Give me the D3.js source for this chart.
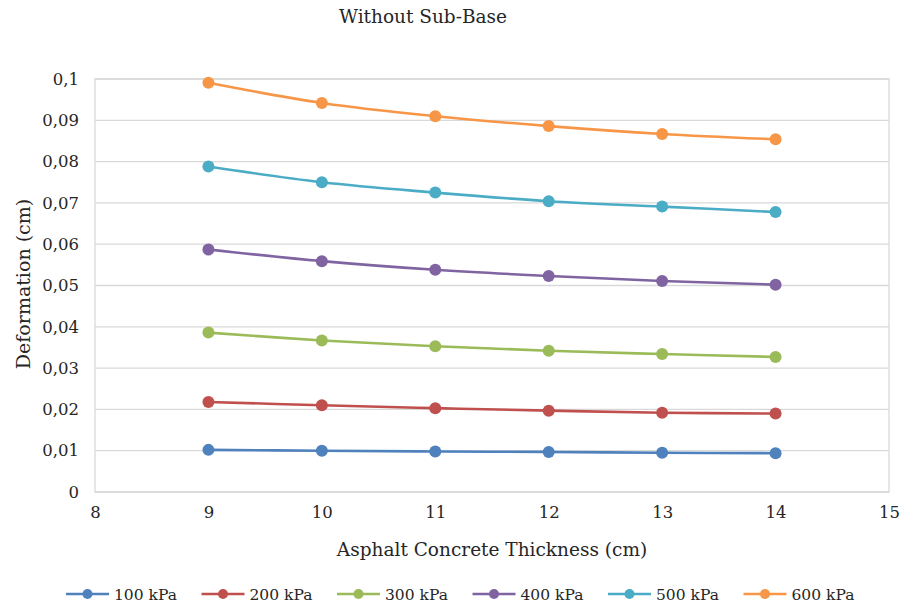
<!DOCTYPE html>
<html><head><meta charset="utf-8">
<script src="https://cdn.jsdelivr.net/npm/d3@7"></script>
<style>body{margin:0;background:#fff}svg{display:block}text{font-family:"DejaVu Serif","Liberation Serif",serif;fill:#262626}</style>
</head><body><svg id="c" width="901" height="608"></svg>
<script>
const thickness = [9, 10, 11, 12, 13, 14];
const seriesNames = ["100 kPa", "200 kPa", "300 kPa", "400 kPa", "500 kPa", "600 kPa"];
const s100 = [0.0102, 0.0100, 0.0098, 0.0097, 0.0095, 0.0094];
const s200 = [0.0218, 0.0210, 0.0203, 0.0197, 0.0192, 0.0190];
const s300 = [0.0386, 0.0367, 0.0353, 0.0342, 0.0334, 0.0327];
const s400 = [0.0587, 0.0559, 0.0538, 0.0523, 0.0511, 0.0502];
const s500 = [0.0788, 0.0750, 0.0725, 0.0704, 0.0691, 0.0678];
const s600 = [0.0991, 0.0942, 0.0910, 0.0886, 0.0867, 0.0854];
const colors = ["#4F81BD", "#C0504D", "#9BBB59", "#8064A2", "#4BACC6", "#F79646"];
const xTicks = [8, 9, 10, 11, 12, 13, 14, 15];
const yTicks = [0, 0.01, 0.02, 0.03, 0.04, 0.05, 0.06, 0.07, 0.08, 0.09, 0.1];
const allSeries = [s100, s200, s300, s400, s500, s600];

const svg = d3.select("#c");
const L = 95, R = 889, T = 79, B = 492;
const x = d3.scaleLinear().domain([8, 15]).range([L, R]);
const y = d3.scaleLinear().domain([0, 0.1]).range([B, T]);
const fmt = v => d3.format("~g")(+v.toFixed(2)).replace(".", ",");

svg.append("g").selectAll("line").data(yTicks).join("line")
  .attr("x1", L).attr("x2", R).attr("y1", d => y(d)).attr("y2", d => y(d))
  .attr("stroke", "#d9d9d9").attr("stroke-width", 1.3);
svg.append("rect").attr("x", L).attr("y", T).attr("width", R - L).attr("height", B - T)
  .attr("fill", "none").attr("stroke", "#d9d9d9").attr("stroke-width", 1.3);

const yAxis = svg.append("g").attr("transform", `translate(${L},0)`)
  .call(d3.axisLeft(y).tickValues(yTicks).tickFormat(fmt).tickSize(0).tickPadding(16));
yAxis.select(".domain").remove();
yAxis.selectAll("text").attr("font-size", 16.5).attr("font-family", "DejaVu Serif").attr("fill", "#262626");

const xAxis = svg.append("g").attr("transform", `translate(0,${B})`)
  .call(d3.axisBottom(x).tickValues(xTicks).tickFormat(d3.format("d")).tickSize(0).tickPadding(14));
xAxis.select(".domain").remove();
xAxis.selectAll("text").attr("font-size", 16.5).attr("font-family", "DejaVu Serif").attr("fill", "#262626");

const line = d3.line().x((d, i) => x(thickness[i])).y(d => y(d)).curve(d3.curveCatmullRom.alpha(0.5));
allSeries.forEach((s, k) => {
  svg.append("path").attr("d", line(s)).attr("fill", "none")
    .attr("stroke", colors[k]).attr("stroke-width", 2.6);
  svg.append("g").selectAll("circle").data(s).join("circle")
    .attr("cx", (d, i) => x(thickness[i])).attr("cy", d => y(d)).attr("r", 6)
    .attr("fill", colors[k]);
});

svg.append("text").attr("x", 423).attr("y", 23).attr("text-anchor", "middle")
  .attr("font-size", 18.5).text("Without Sub-Base");
svg.append("text").attr("x", 492).attr("y", 556).attr("text-anchor", "middle")
  .attr("font-size", 18.5).text("Asphalt Concrete Thickness (cm)");
svg.append("text").attr("transform", "translate(30,284) rotate(-90)").attr("text-anchor", "middle")
  .attr("font-size", 19).text("Deformation (cm)");

const lg = svg.append("g");
seriesNames.forEach((n, k) => {
  const x0 = 66 + k * 135.5;
  const g = lg.append("g").attr("transform", `translate(${x0},594)`);
  g.append("line").attr("x1", 0).attr("x2", 43).attr("stroke", colors[k]).attr("stroke-width", 2.6);
  g.append("circle").attr("cx", 21.5).attr("r", 5).attr("fill", colors[k]);
  g.append("text").attr("x", 48).attr("y", 6).attr("font-size", 15.5).text(n);
});
</script></body></html>
